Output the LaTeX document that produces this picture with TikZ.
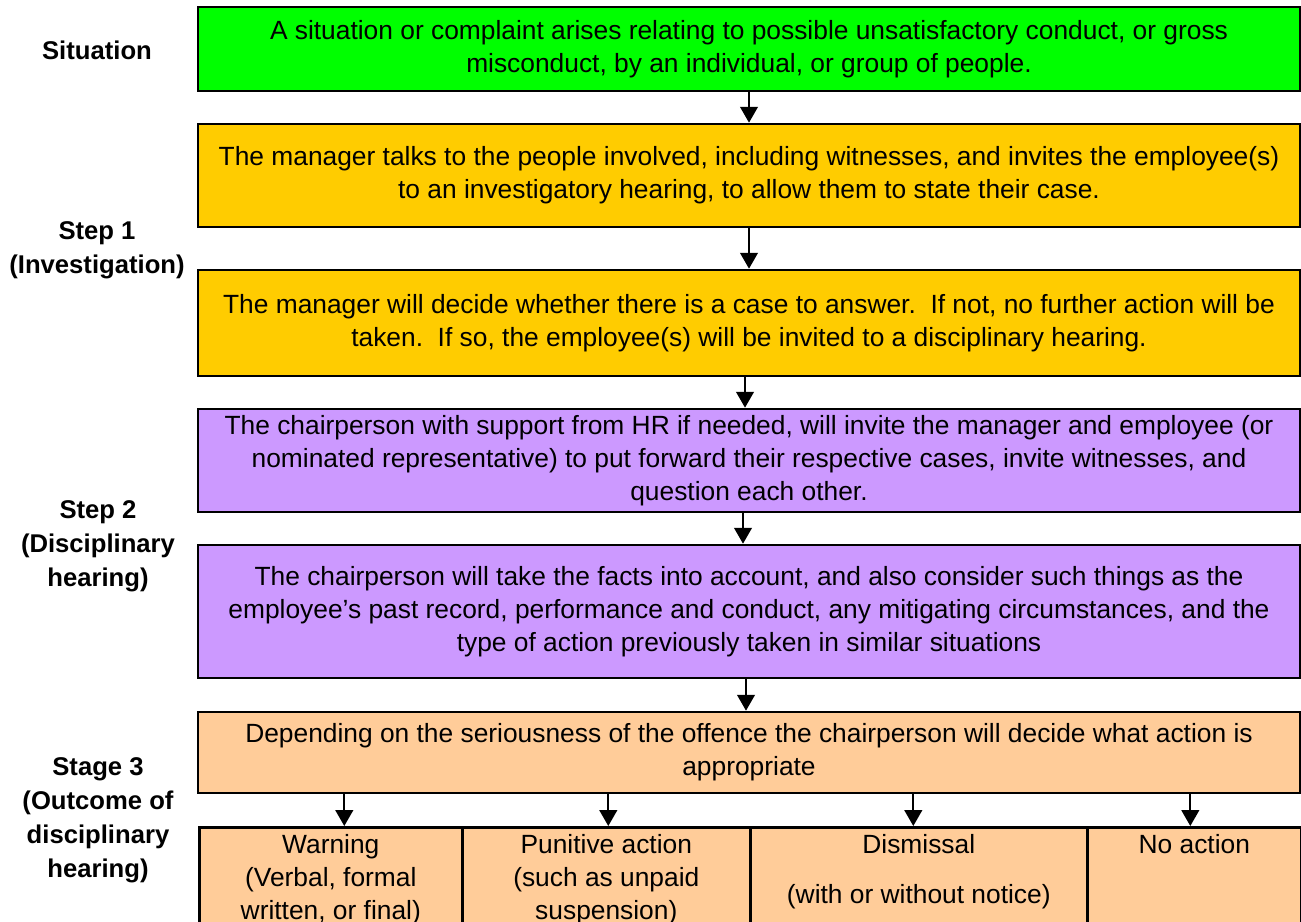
\documentclass[tikz,border=0pt]{standalone}
\usepackage{fontspec}
\setmainfont{Liberation Sans}
\usetikzlibrary{arrows.meta}
\definecolor{sitgreen}{HTML}{00FF00}
\definecolor{invorange}{HTML}{FFCC00}
\definecolor{hearpurple}{HTML}{CC99FF}
\definecolor{outpeach}{HTML}{FFCC99}
\newcommand{\toptext}[2]{\parbox[c][2.1cm][t]{#1}{\centering\strut #2}}
\tikzset{box/.style={draw=black, line width=1.5pt, minimum width=22.04cm, align=center, inner sep=0pt, font=\fontsize{15}{18.7}\selectfont},
         outbox/.style={box, fill=outpeach, anchor=north west, minimum width=0pt, inner xsep=0pt, inner ysep=0.06cm},
         stage/.style={align=center, font=\fontsize{14.6}{19.4}\selectfont\bfseries},
         flow/.style={line width=1.2pt, -{Triangle[width=10pt,length=9pt]}}}

\begin{document}
\begin{tikzpicture}[x=0.02cm, y=-0.02cm]
\useasboundingbox (0,0) rectangle (1301,922);
\node[stage] (situation) at (97,50) {Situation};
\node[stage] (step1) at (97,250) {Step 1\\(Investigation)};
\node[stage] (step2) at (98,546) {Step 2\\(Disciplinary\\hearing)};
\node[stage] (stage3) at (98,820) {Stage 3\\(Outcome of\\disciplinary\\hearing)};

\node[box, fill=sitgreen, minimum height=1.68cm] (green) at (749,49)
  {A situation or complaint arises relating to possible unsatisfactory conduct, or gross\\misconduct, by an individual, or group of people.};
\node[box, fill=invorange, minimum height=2.06cm] (talk) at (749,175.5)
  {The manager talks to the people involved, including witnesses, and invites the employee(s)\\to an investigatory hearing, to allow them to state their case.};
\node[box, fill=invorange, minimum height=2.12cm] (decide) at (749,323)
  {The manager will decide whether there is a case to answer.\ \ If not, no further action will be\\taken.\ \ If so, the employee(s) will be invited to a disciplinary hearing.};
\node[box, fill=hearpurple, minimum height=2.06cm] (chair) at (749,460.5)
  {The chairperson with support from HR if needed, will invite the manager and employee (or\\nominated representative) to put forward their respective cases, invite witnesses, and\\question each other.};
\node[box, fill=hearpurple, minimum height=2.66cm] (facts) at (749,611.5)
  {The chairperson will take the facts into account, and also consider such things as the\\employee's past record, performance and conduct, any mitigating circumstances, and the\\type of action previously taken in similar situations};
\node[box, fill=outpeach, minimum height=1.62cm] (depend) at (749,752.5)
  {Depending on the seriousness of the offence the chairperson will decide what action is\\appropriate};

\node[outbox] (warn) at (198,826) {\toptext{5.26cm}{Warning\\(Verbal, formal\\written, or final)}};
\node[outbox] (punish) at (461,826) {\toptext{5.76cm}{Punitive action\\(such as unpaid\\suspension)}};
\node[outbox] (dismiss) at (749,826) {\toptext{6.74cm}{Dismissal\\[10pt](with or without notice)}};
\node[outbox] (none) at (1086,826) {\toptext{4.28cm}{No action}};

\draw[flow] (green) -- (talk);
\draw[flow] (talk) -- (decide);
\draw[flow] ([xshift=-0.08cm]decide.south) -- ([xshift=-0.08cm]chair.north);
\draw[flow] ([xshift=-0.12cm]chair.south) -- ([xshift=-0.12cm]facts.north);
\draw[flow] ([xshift=-0.06cm]facts.south) -- ([xshift=-0.06cm]depend.north);
\foreach \b/\dx in {warn/0.27, punish/0.04, dismiss/-0.11, none/-0.08}
  \draw[flow] ([xshift=\dx cm]depend.south -| \b.north) -- ([xshift=\dx cm]\b.north);
\end{tikzpicture}
\end{document}
